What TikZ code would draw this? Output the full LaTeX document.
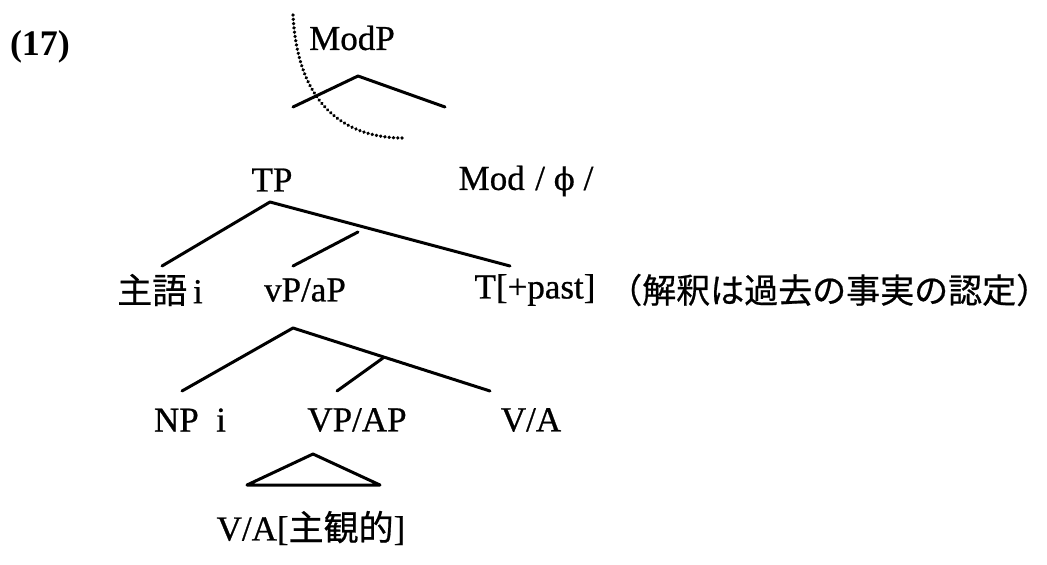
\documentclass[tikz,border=0pt]{standalone}
\usepackage{fontspec}
\setmainfont{Liberation Serif}
\newfontfamily\rmh{Liberation Serif}[FakeBold=0.7]
\newfontfamily\cjk{Noto Sans CJK JP}[FakeBold=0.6]
\newfontfamily\dvs{DejaVu Serif}[FakeBold=0.5]
\begin{document}
\begin{tikzpicture}[x=1pt,y=-1pt,
  lab/.style={inner sep=0pt, font=\fontsize{35}{40}\selectfont\rmh},
  br/.style={line width=3pt, line cap=round, line join=round},
  dots/.style={line width=3.6pt, dash pattern=on 0.1pt off 4.2pt, line cap=round}]
\useasboundingbox (0,0) rectangle (1047,565);
\node[lab, font=\fontsize{36}{40}\selectfont\bfseries] (ex) at (40,47) {(17)};
\node[lab] (modp) at (352,38) {ModP};
\node[lab] (tp) at (272,180) {TP};
\node[lab] (mod) at (526,181) {Mod\hspace{0.3em}/\hspace{0.25em}{\dvs\fontsize{31}{36}\selectfont ϕ}\hspace{0.25em}/};
\node[lab] (subj) at (160,290) {{\cjk 主語}\,i};
\node[lab] (vp) at (305,290) {vP/aP};
\node[lab] (t) at (535,290) {T[+past]};
\node[lab, anchor=west, font=\fontsize{34}{40}\selectfont] (note) at (608,290) {\cjk （解釈は過去の事実の認定）};
\node[lab] (np) at (190,420) {NP\ \ i};
\node[lab] (vpap) at (357,420) {VP/AP};
\node[lab] (va) at (531,420) {V/A};
\node[lab] (vasub) at (311,528) {V/A[{\cjk 主観的}]};
% ModP branches
\coordinate (m0) at (358,76);
\coordinate (m1) at (293,107);
\coordinate (m2) at (445,107);
\draw[br] (m1) -- (m0) -- (m2);
\coordinate (d0) at (293,15);
\coordinate (d1) at (403,138);
\draw[dots] (d0) .. controls (298,110) and (350,138) .. (d1);
% TP branches
\coordinate (t0) at (270,202);
\coordinate (t1) at (162,266);
\coordinate (t2) at (510,266);
\coordinate (t3) at (293,266);
\coordinate (t4) at (358,232);
\draw[br] (t1) -- (t0) -- (t2);
\draw[br] (t3) -- (t4);
% vP branches
\coordinate (v0) at (293,328);
\coordinate (v1) at (182,391);
\coordinate (v2) at (490,391);
\coordinate (v3) at (337,391);
\coordinate (v4) at (383,358);
\draw[br] (v1) -- (v0) -- (v2);
\draw[br] (v3) -- (v4);
% triangle
\coordinate (a0) at (313,454);
\coordinate (a1) at (247,485);
\coordinate (a2) at (380,485);
\draw[br] (a0) -- (a1) -- (a2) -- cycle;
\end{tikzpicture}
\end{document}
